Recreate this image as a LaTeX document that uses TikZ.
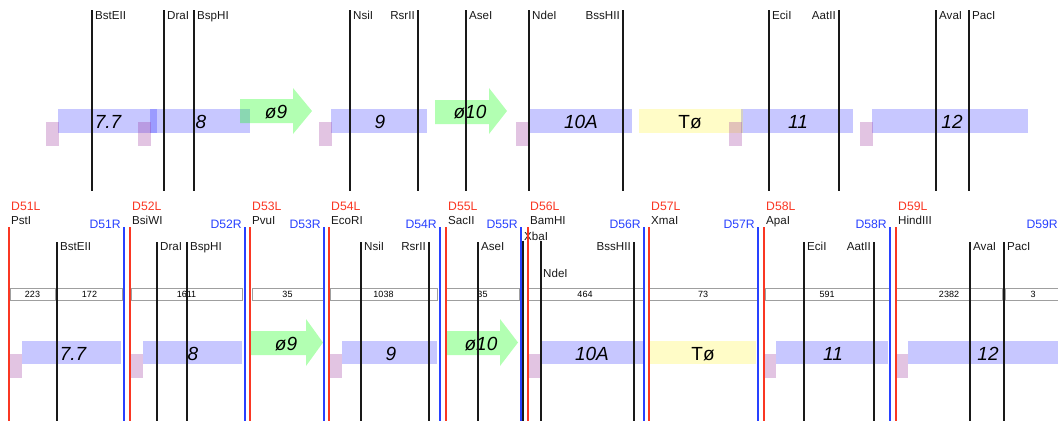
\documentclass[tikz,border=0pt]{standalone}
\usepackage{fontspec}
\setmainfont{Liberation Sans}
\definecolor{dred}{RGB}{250,55,35}
\definecolor{dblue}{RGB}{40,65,255}
\definecolor{lblack}{RGB}{25,25,25}
\definecolor{pinkc}{RGB}{150,40,150}
\begin{document}
\begin{tikzpicture}[x=1pt,y=-1pt,
  enz/.style={font=\fontsize{11.6}{13}\selectfont, inner sep=0pt, text=lblack},
  dlab/.style={font=\fontsize{12.2}{13}\selectfont, inner sep=0pt},
  cnt/.style={font=\fontsize{9}{10}\selectfont, inner sep=0pt},
  big/.style={font=\fontsize{19}{22}\selectfont\itshape, inner sep=0pt},
  bigup/.style={font=\fontsize{19}{22}\selectfont, inner sep=0pt},
  cutline/.style={line width=1.3pt, draw=lblack},
  lline/.style={line width=1.3pt, draw=dred},
  rline/.style={line width=1.3pt, draw=dblue},
  orfbox/.style={fill=blue, fill opacity=0.22},
  padbox/.style={fill=pinkc, fill opacity=0.27},
  arrbox/.style={fill=green, fill opacity=0.3},
  tbox/.style={fill=yellow, fill opacity=0.22},
  countbox/.style={draw=gray!75, line width=0.8pt, fill=white},
]
\useasboundingbox (0,0) rectangle (1058,421);
\clip (0,0) rectangle (1058,421);
\fill[white] (0,0) rectangle (1058,421);

% ================= TOP ROW =================
% blue ORF boxes
\foreach \a/\b in {58/157, 150/250, 331/427, 529/632, 741/853, 872/1028}
  \fill[orfbox] (\a,109) rectangle (\b,133);
\fill[tbox] (639,109) rectangle (743,133);
% pink pads
\foreach \a in {46,138,319,516,729,860}
  \fill[padbox] (\a,122) rectangle (\a+12.5,146);
% green arrows
\fill[arrbox] (240,99) -- (293,99) -- (293,88) -- (312,111) -- (293,134) -- (293,123) -- (240,123) -- cycle;
\fill[arrbox] (435,100) -- (489,100) -- (489,88) -- (507,111) -- (489,134) -- (489,124) -- (435,124) -- cycle;
% labels
\node[big, anchor=base] (t77) at (108,128) {7.7};
\node[big, anchor=base] (t8) at (201,128) {8};
\node[big, anchor=base] (t09) at (276,118) {ø9};
\node[big, anchor=base] (t9) at (380,128) {9};
\node[big, anchor=base] (t010) at (470,118) {ø10};
\node[big, anchor=base] (t10A) at (581,128) {10A};
\node[bigup, anchor=base] (tT) at (690,128) {Tø};
\node[big, anchor=base] (t11) at (798,128) {11};
\node[big, anchor=base] (t12) at (952,128) {12};
% enzyme lines, label right
\foreach \x/\l in {92/BstEII, 164/DraI, 194/BspHI, 350/NsiI, 466/AseI, 529/NdeI, 769/EciI, 936/AvaI, 969/PacI}{
  \draw[cutline] (\x,10) -- (\x,191);
  \node[enz, anchor=base west] (te-\l) at (\x+3,19) {\l};
}
% enzyme lines, label left
\foreach \x/\l in {418/RsrII, 623/BssHII, 839/AatII}{
  \draw[cutline] (\x,10) -- (\x,191);
  \node[enz, anchor=base east] (te-\l) at (\x-3,19) {\l};
}

% ================= BOTTOM ROW =================
% count boxes
\fill[gray!45] (54,288) rectangle (58,300);
\fill[gray!45] (1001,288) rectangle (1006,300);
\foreach \a/\b/\c/\n in {10/55/223/c1, 57/122/172/c2, 131/242/1611/c3, 252/323/35/c4, 330/437/1038/c5, 446/519/35/c6, 527/643/464/c7, 649/757/73/c8, 765/889/591/c9, 896/1002/2382/c10, 1005/1061/3/c11}{
  \draw[countbox] (\a,288) rectangle (\b,300);
  \node[cnt, anchor=base] (\n) at ({(\a+\b)/2},297.5) {\c};
}
% blue ORF boxes
\foreach \a/\b in {22/121, 143/242, 342/437, 541/643, 776/888, 908/1068}
  \fill[orfbox] (\a,341) rectangle (\b,364);
\fill[tbox] (650,341) rectangle (756,364);
% pink pads
\foreach \a/\b in {10/22, 131/143, 330/342, 527/541, 764/776, 896/908}
  \fill[padbox] (\a,354) rectangle (\b,378);
% green arrows
\fill[arrbox] (251,331) -- (306,331) -- (306,319) -- (323,342.5) -- (306,366) -- (306,355) -- (251,355) -- cycle;
\fill[arrbox] (447,331) -- (500,331) -- (500,319) -- (518,342.5) -- (500,366) -- (500,355) -- (447,355) -- cycle;
% labels
\node[big, anchor=base] (b77) at (73,360) {7.7};
\node[big, anchor=base] (b8) at (193,360) {8};
\node[big, anchor=base] (b09) at (286,350) {ø9};
\node[big, anchor=base] (b9) at (391,360) {9};
\node[big, anchor=base] (b010) at (481,350) {ø10};
\node[big, anchor=base] (b10A) at (592,360) {10A};
\node[bigup, anchor=base] (bT) at (703,360) {Tø};
\node[big, anchor=base] (b11) at (833,360) {11};
\node[big, anchor=base] (b12) at (988,360) {12};
% enzyme lines, label right
\foreach \x/\l in {57/BstEII, 157/DraI, 187/BspHI, 361/NsiI, 478/AseI, 804/EciI, 970/AvaI, 1004/PacI}{
  \draw[cutline] (\x,242) -- (\x,421);
  \node[enz, anchor=base west] (be-\l) at (\x+3,250) {\l};
}
\foreach \x/\l in {429/RsrII, 634/BssHII, 874/AatII}{
  \draw[cutline] (\x,242) -- (\x,421);
  \node[enz, anchor=base east] (be-\l) at (\x-3,250) {\l};
}
\draw[cutline] (523,241) -- (523,421);
\node[enz, anchor=base west] (be-XbaI) at (524,240) {XbaI};
\draw[cutline] (541,241) -- (541,421);
\node[enz, anchor=base west] (be-NdeI) at (543,277) {NdeI};
% digest ends: left (red) and right (blue)
\foreach \x/\d/\e in {9/51/PstI, 130/52/BsiWI, 250/53/PvuI, 329/54/EcoRI, 446/55/SacII, 528/56/BamHI, 649/57/XmaI, 764/58/ApaI, 896/59/HindIII}{
  \draw[lline] (\x,227) -- (\x,421);
  \node[dlab, text=dred, anchor=base west] (L\d) at (\x+2,210) {D\d L};
  \node[enz, anchor=base west] (E\d) at (\x+2,224) {\e};
}
\foreach \x/\d in {124/51, 245/52, 324/53, 440/54, 521/55, 644/56, 758/57, 890/58}{
  \draw[rline] (\x,227) -- (\x,421);
  \node[dlab, text=dblue, anchor=base east] (R\d) at (\x-3,228) {D\d R};
}
\node[dlab, text=dblue, anchor=base east] (R59) at (1058,228) {D59R};
\end{tikzpicture}
\end{document}
